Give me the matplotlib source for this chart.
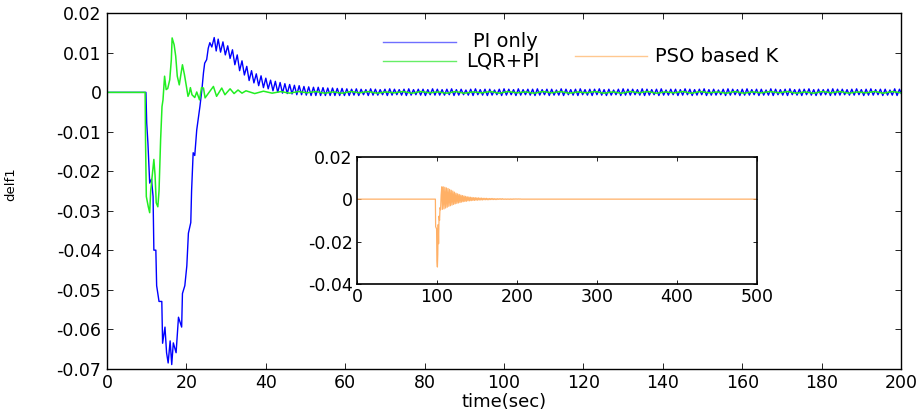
import numpy as np
import matplotlib.pyplot as plt
from matplotlib.lines import Line2D

plt.rcParams['font.family'] = ['DejaVu Sans']
plt.rcParams['font.size'] = 12.5

# ---- PI only (blue), transient part
pi_t = [0, 9.8, 10.0, 10.3, 10.75, 11.2, 11.6, 11.8, 12.3, 12.5,
        13.1, 13.8, 14.0, 14.6, 15.0, 15.4, 15.9, 16.3, 16.7, 17.4,
        18.0, 18.8, 19.0, 19.6, 20.1, 20.5, 21.1, 21.3, 21.7, 22.1,
        22.6, 23.4, 23.9, 24.3, 24.6, 25.1, 25.5, 25.9, 26.4, 27.0, 27.5]
pi_v = [0, 0, -0.0078, -0.0128, -0.023, -0.022, -0.0264, -0.040, -0.040, -0.049,
        -0.053, -0.053, -0.0636, -0.0595, -0.066, -0.0686, -0.063, -0.069, -0.0635, -0.066,
        -0.057, -0.0595, -0.051, -0.049, -0.044, -0.0357, -0.033, -0.025, -0.0153, -0.016,
        -0.0095, -0.0036, 0.0007, 0.005, 0.0074, 0.0083, 0.0112, 0.0126, 0.0115, 0.0139, 0.0105]
# ripple after t=28 s, sampled every 0.6 s, units of 1e-4
pi_tail = [135, 102, 128, 95, 118, 86, 108, 70, 95, 55, 80, 44, 66, 30, 55, 24, 47, 17,
           42, 12, 36, 9, 31, 4, 28, 0, 25, -2, 22, -3, 20, -4, 18, -6, 17, -6, 15, -7,
           14, -8, 13, -8, 13, -8, 12, -8, 11, -8, 11, -8, 10, -8, 10, -8,
           9, -8, 8, -7, 9, -8, 8, -6, 7, -8, 9, -7, 8, -7, 7, -6, 8, -8, 9, -7,
           8, -6, 7, -7, 8, -8, 9, -7, 7, -6, 8, -7, 8, -8, 7, -6, 9, -7, 8, -7,
           7, -7, 8, -6, 9, -8, 7, -7, 8, -6, 6, -7, 8, -8, 9, -6, 7, -7, 8, -8,
           8, -7, 6, -6, 8, -8, 9, -7, 8, -6, 7, -8, 9, -7, 7, -6, 8, -7, 8, -8,
           9, -7, 7, -6, 8, -8, 8, -7, 6, -7, 9, -8, 8, -6, 7, -7, 8, -8, 9, -6,
           7, -7, 8, -8, 8, -6, 9, -7, 7, -8, 8, -7, 6, -6, 8, -8, 9, -7, 8, -7,
           8, -6, 7, -7, 9, -8, 8, -7, 7, -6, 8, -8, 9, -7, 6, -7, 8, -6, 8, -8,
           7, -7, 9, -6, 8, -8, 7, -7, 8, -6, 9, -8, 7, -7, 8, -7, 6, -6, 8, -8,
           9, -7, 8, -6, 7, -8, 8, -7, 9, -7, 7, -6, 8, -8, 8, -7, 6, -7, 9, -8,
           8, -6, 7, -7, 8, -8, 9, -6, 7, -7, 8, -8, 8, -6, 9, -7, 7, -8, 8, -7,
           7, -6, 8, -8, 9, -7, 8, -7, 8, -6, 7, -7,
           8, -7, 9, -6, 7, -8, 8, -7, 9, -7, 7, -6, 8, -8, 8, -7, 6, -7, 9, -8,
           8, -6, 7, -7]
pi_tail_start, pi_tail_step = 28.0, 0.6

# ---- LQR+PI (green)
lqr_t = [0, 9.6, 9.7, 9.9, 10.4, 10.75, 11.0, 11.4, 11.8, 12.1,
         12.4, 12.8, 13.1, 13.5, 13.85, 14.1, 14.5, 14.9, 15.3, 15.8,
         16.2, 16.4, 16.9, 17.3, 17.7, 18.2, 18.6, 19.0, 19.5, 20.0,
         20.4, 20.7, 21.0, 21.4, 22.1, 22.6, 23.3, 23.8, 24.3, 24.7,
         25.7, 26.8, 27.6, 28.9, 29.7, 31.0, 32.0, 33.0, 34.0]
lqr_v = [0, 0, -0.012, -0.0264, -0.029, -0.0305, -0.025, -0.021, -0.017, -0.021,
         -0.028, -0.029, -0.025, -0.012, -0.0036, -0.0019, 0.0041, 0.0007, 0.0010, 0.0032,
         0.0083, 0.0138, 0.0121, 0.0092, 0.0041, 0.0019, 0.0045, 0.007, 0.0045, 0.0015,
         -0.001, -0.0003, 0.0012, -0.0006, -0.0013, 0.0001, -0.0019, 0.0012, 0.0011, -0.0014,
         0.0000, 0.0015, -0.001, 0.0011, -0.0006, 0.0009, -0.0003, 0.0006, -0.0002]
# small ripple after t=35 s, every 2.2 s, units of 1e-4
lqr_tail = [4, -3, 3, -2, 2, -2, 2, -1, 2, -2, 1, -2, 2, -1, 2, -2, 1, -1, 2, -2,
            2, -1, 1, -2, 2, -2, 1, -1, 2, -2, 2, -1, 1, -2, 2, -1, 2, -2, 1, -1,
            2, -2, 1, -2, 2, -1, 2, -2, 1, -1, 2, -2, 2, -1, 1, -2, 2, -2, 1, -1,
            2, -1, 2, -2, 1, -2, 2, -1, 2, -2, 1, -1, 2, -2, 2, -1]
lqr_tail_start, lqr_tail_step = 35.0, 2.2

# ---- PSO based K (orange, inset)
pso_t = [0, 98.0, 98.3, 99.5, 99.9, 100.5, 101.0, 101.5, 102.0, 102.6,
         103.2, 103.8, 104.5, 105.2, 106.0]
pso_v = [0, 0, -0.013, -0.014, -0.029, -0.032, -0.026, -0.012, -0.021, -0.008,
         -0.010, -0.004, -0.005, 0.002, 0.0058]
# ripple after t=106.8, every 1.0, units of 1e-4
pso_tail = [-48, 58, -46, 56, -42, 53, -38, 50, -34, 46, -31, 42, -28, 38, -25, 33,
            -22, 28, -20, 25, -18, 22, -16, 19, -14, 17, -12, 15, -11, 13, -10, 11,
            -8, 10, -8, 9, -7, 8, -6, 7, -6, 7, -5, 6, -5, 6, -4, 5, -4, 5, -4, 4,
            -3, 4, -3, 4, -3, 3, -3, 3, -2, 3, -2, 3, -2, 2, -2, 2, -2, 2, -1, 2,
            -1, 2, -1, 2, -1, 1, -1, 1, -1, 1, -1, 1, -1, 1, -1, 1, -1, 1,
            0, 1, 0, 1, 0, 1, 0, 1, 0, 0, 0]
pso_tail_start, pso_tail_step = 106.8, 1.0
pso_end = 500.0


def join(t, v, tail, start, step):
    tt = start + step * np.arange(len(tail))
    return (np.concatenate([t, tt]),
            np.concatenate([v, np.array(tail) * 1e-4]))


bt, bv = join(pi_t, pi_v, pi_tail, pi_tail_start, pi_tail_step)
gt, gv = join(lqr_t, lqr_v, lqr_tail, lqr_tail_start, lqr_tail_step)
ot, ov = join(pso_t, pso_v, pso_tail, pso_tail_start, pso_tail_step)
ot = np.append(ot, pso_end)
ov = np.append(ov, 0.0)

blue = '#0000ff'
green = '#22ee22'
orange = '#ffb066'

fig = plt.figure(figsize=(9.17, 4.11), dpi=100)
ax = fig.add_axes([0.1167, 0.1034, 0.8659, 0.8638])
ax.plot(bt, bv, color=blue, lw=1.0)
ax.plot(gt, gv, color=green, lw=1.1)
ax.set_xlim(0, 200)
ax.set_ylim(-0.07, 0.02)
ax.set_xticks(np.arange(0, 201, 20))
yt = [-0.07, -0.06, -0.05, -0.04, -0.03, -0.02, -0.01, 0, 0.01, 0.02]
ax.set_yticks(yt)
ax.set_yticklabels(['-0.07', '-0.06', '-0.05', '-0.04', '-0.03', '-0.02',
                    '-0.01', '0', '0.01', '0.02'])
ax.set_xlabel('time(sec)', labelpad=1, fontsize=13)
ax.set_ylabel('delf1', fontsize=9.5)
ax.yaxis.set_label_coords(-0.113, 0.52)
ax.tick_params(direction='in', top=True, right=True, length=4, width=0.6, pad=4)
for s in ax.spines.values():
    s.set_linewidth(1.0)

# legend drawn in axes fraction
tr = ax.transAxes
ax.add_line(Line2D([0.3476, 0.4395], [0.921, 0.921], transform=tr,
                   color='#6f6fff', lw=1.0))
ax.text(0.461, 0.921, 'PI only', transform=tr, va='center', ha='left', fontsize=14)
ax.add_line(Line2D([0.3476, 0.4395], [0.866, 0.866], transform=tr,
                   color='#66ee66', lw=1.0))
ax.text(0.452, 0.866, 'LQR+PI', transform=tr, va='center', ha='left', fontsize=14)
ax.add_line(Line2D([0.589, 0.680], [0.880, 0.880], transform=tr,
                   color='#ffc890', lw=1.0))
ax.text(0.690, 0.880, 'PSO based K', transform=tr, va='center', ha='left', fontsize=14)

# inset
ax2 = fig.add_axes([0.3893, 0.309, 0.4362, 0.3097])
ax2.plot(ot, ov, color=orange, lw=0.9)
ax2.set_xlim(0, 500)
ax2.set_ylim(-0.04, 0.02)
ax2.set_xticks(np.arange(0, 501, 100))
ax2.set_yticks([-0.04, -0.02, 0, 0.02])
ax2.set_yticklabels(['-0.04', '-0.02', '0', '0.02'])
ax2.tick_params(direction='in', top=True, right=True, length=3, width=0.6, pad=3)
for s in ax2.spines.values():
    s.set_linewidth(1.2)

fig.savefig('out.png', dpi=100)
